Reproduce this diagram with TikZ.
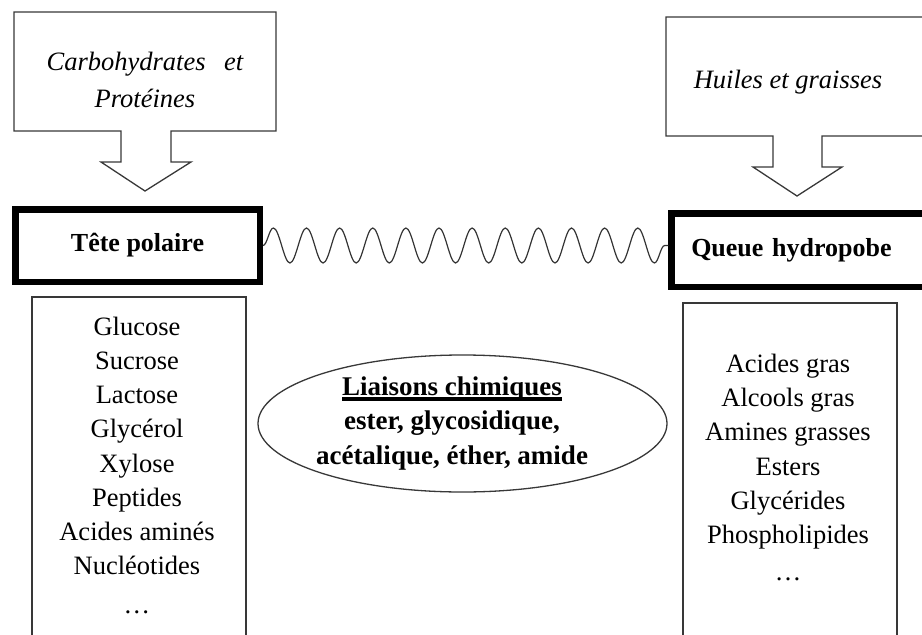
\documentclass[tikz,border=0pt]{standalone}
\usepackage{fontspec}
\setmainfont{Liberation Serif}
\usetikzlibrary{shapes.geometric,decorations.pathmorphing}
\newsavebox\myulbox
\newcommand\thickul[1]{\sbox\myulbox{#1}\rlap{\rule[-5.2pt]{\wd\myulbox}{3.6pt}}\usebox\myulbox}
\begin{document}
\begin{tikzpicture}[x=1pt,y=-1pt,
  thinline/.style={draw=black!78, line width=1.3pt, line join=miter},
  calltext/.style={font=\fontsize{26.5}{37}\selectfont\itshape, align=center, inner sep=0pt},
  headbox/.style={draw=black, line width=6.5pt, inner ysep=0pt, font=\fontsize{26}{30}\selectfont\bfseries},
  listtext/.style={font=\fontsize{26.5}{34.2}\selectfont, align=center, inner sep=0pt},
  bondtext/.style={font=\fontsize{27}{34.5}\selectfont\bfseries, align=center, inner sep=0pt},
  springline/.style={draw=black!80, line width=1.2pt, decorate, decoration={snake, segment length=33.13pt, amplitude=17.5pt}}]
\useasboundingbox (0,0) rectangle (922,635);
\clip (0,0) rectangle (922,635);

% callouts
\draw[thinline] (121,131) -- (14,131) -- (14,12) -- (276,12) -- (276,131) -- (171,131) -- (171,162) -- (191,162) -- (145,191) -- (101,162) -- (121,162) -- cycle;
\node[calltext, anchor=north] (carbo) at (145,52) {Carbohydrates\hspace{0.45em} et\\Protéines};

\draw[thinline] (773,136) -- (666,136) -- (666,17) -- (932,17) -- (932,136) -- (822,136) -- (822,167) -- (842,167) -- (797,196) -- (753,167) -- (773,167) -- cycle;
\node[calltext, anchor=north] (huiles) at (788,70) {Huiles et graisses};

% head and tail
\node[headbox, minimum width=244.5pt, minimum height=72.5pt] (tete) at (137.5,245.5) {Tête polaire};
\node[headbox, minimum height=73.5pt, text width=220.25pt, align=left, inner xsep=19.75pt, anchor=west] (queue) at (668.25,250) {Queue hydropobe};

% spring
\draw[springline] (tete.east) -- (tete.east -| queue.west);

% bonds ellipse
\node[draw=black!78, line width=1.3pt, ellipse, minimum width=409pt, minimum height=137pt, inner sep=0pt] (bond) at (462.5,423.5) {};
\node[bondtext, anchor=north] (bondtxt) at (452,376.4) {\thickul{Liaisons chimiques}\\ester, glycosidique,\\acétalique, éther, amide};

% lists
\draw[thinline] (32,640) -- (32,297) -- (246,297) -- (246,640);
\node[listtext, anchor=north] (leftlist) at (137,316.7) {Glucose\\Sucrose\\Lactose\\Glycérol\\Xylose\\Peptides\\Acides aminés\\Nucléotides\\[5pt]…};

\draw[thinline] (683,640) -- (683,303) -- (897,303) -- (897,640);
\node[listtext, anchor=north] (rightlist) at (788,354) {Acides gras\\Alcools gras\\Amines grasses\\Esters\\Glycérides\\Phospholipides\\[3pt]…};
\end{tikzpicture}
\end{document}
